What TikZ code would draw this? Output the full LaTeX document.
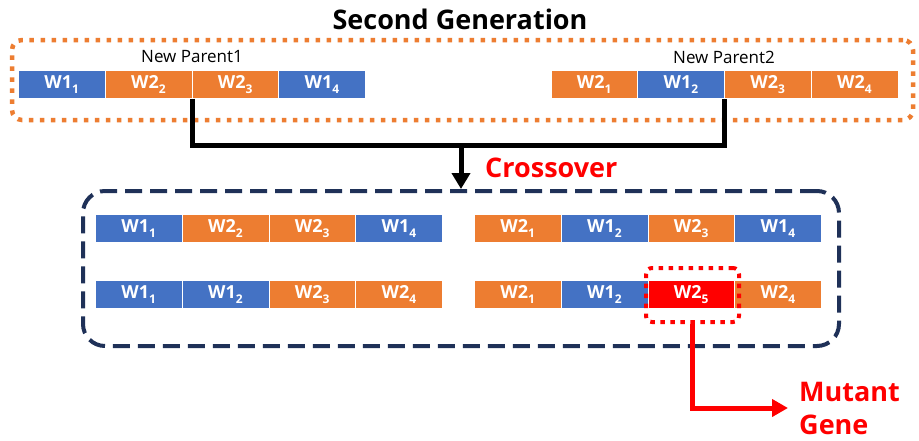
\documentclass[tikz,border=0pt]{standalone}
\usepackage{fontspec}
\setmainfont{Open Sans}
\usetikzlibrary{arrows.meta}
\definecolor{gblue}{HTML}{4472C4}
\definecolor{gorange}{HTML}{ED7D31}
\definecolor{gred}{HTML}{FF0000}
\definecolor{navy}{HTML}{1F3158}
\newcommand\chrom[4]{%
  \foreach [count=\i] \c/\t in {#4} {
    \node[gene, fill=\c, anchor=north west] (#1\i) at ({#2+(\i-1)*86.75}, #3) {\t};
  }}
\newcommand\wsub[2]{W#1\raisebox{-0.5ex}{\fontsize{12}{12}\selectfont #2}}
\begin{document}
\begin{tikzpicture}[x=1pt,y=-1pt,
  gene/.style={draw=white, line width=0.6pt, minimum width=86.75pt, minimum height=28pt,
    inner sep=0pt, text=white, font=\bfseries\fontsize{18}{18}\selectfont},
  title/.style={font=\bfseries\fontsize{27}{27}\selectfont, inner sep=0pt},
  plabel/.style={font=\fontsize{17}{17}\selectfont, inner sep=0pt},
  genbox/.style={draw=gorange, line width=4.5pt, dash pattern=on 4.5pt off 6.5pt, rounded corners=10pt, inner sep=0pt},
  crossbox/.style={draw=navy, line width=4pt, dash pattern=on 17pt off 8pt, rounded corners=22pt, inner sep=0pt},
  mutbox/.style={draw=gred, line width=4pt, dash pattern=on 4.5pt off 5.5pt, rounded corners=6pt, inner sep=0pt},
  conn/.style={line width=5pt, draw=black},
  redconn/.style={line width=5pt, draw=gred},
]
\useasboundingbox (0,0) rectangle (919,440);
\fill[white] (0,0) rectangle (919,440);

\node[title] (ttl) at (460,19) {Second Generation};
\node[genbox, minimum width=901pt, minimum height=80pt] (gbox) at (462.5,80) {};
\node[plabel] (np1) at (192,57) {New Parent1};
\node[plabel] (np2) at (724,57) {New Parent2};

\chrom{p1}{18}{70}{gblue/\wsub11, gorange/\wsub22, gorange/\wsub23, gblue/\wsub14}
\chrom{p2}{550.5}{70}{gorange/\wsub21, gblue/\wsub12, gorange/\wsub23, gorange/\wsub24}

\node[crossbox, minimum width=756pt, minimum height=155pt] (cbox) at (461,268.5) {};
\node[title, text=gred, anchor=west] (cross) at (485,168) {Crossover};

\chrom{a}{95}{214}{gblue/\wsub11, gorange/\wsub22, gorange/\wsub23, gblue/\wsub14}
\chrom{b}{474}{214}{gorange/\wsub21, gblue/\wsub12, gorange/\wsub23, gblue/\wsub14}
\chrom{c}{95}{280}{gblue/\wsub11, gblue/\wsub12, gorange/\wsub23, gorange/\wsub24}
\chrom{d}{474}{280}{gorange/\wsub21, gblue/\wsub12, gred/\wsub25, gorange/\wsub24}

\node[mutbox, minimum width=93pt, minimum height=54pt] (mbox) at (692.5,295) {};

\coordinate (join) at (461,145);
\draw[conn] (p12.south east) |- (join) -| (p22.south east);
\draw[conn, -{Triangle[width=18pt,length=16pt]}] (join) -- (cbox.north);

\node[title, text=gred, anchor=west, align=left, inner xsep=11pt, font=\bfseries\fontsize{27}{33}\selectfont] (mg) at (788,408) {Mutant\\Gene};
\draw[redconn, -{Triangle[width=17pt,length=16pt]}] (mbox.south) |- (mg.west);
\end{tikzpicture}
\end{document}
